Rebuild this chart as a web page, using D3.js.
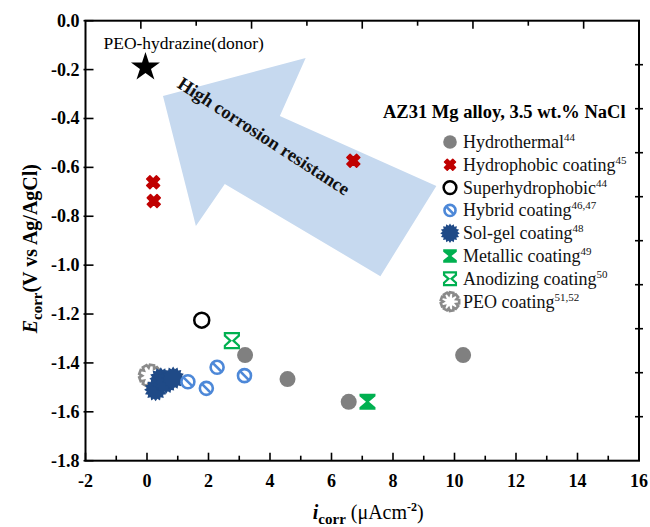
<!DOCTYPE html>
<html>
<head>
<meta charset="utf-8">
<script src="https://cdn.jsdelivr.net/npm/d3@7"></script>
<style>
  body { margin: 0; background: #fff; }
  svg text { font-family: "Liberation Serif", "DejaVu Serif", serif; }
</style>
</head>
<body>
<div id="chart"></div>
<script>
// data (i_corr in uA/cm2, E_corr in V)
const hydrothermal = [[3.19, -1.368], [4.57, -1.466], [6.56, -1.559], [10.28, -1.368]];
const hydrophobic = [[0.20, -0.661], [0.22, -0.738], [6.71, -0.573]];
const superhydrophobic = [[1.78, -1.225]];
const hybrid = [[1.33, -1.477], [1.93, -1.504], [2.28, -1.418], [3.17, -1.452]];
const solgel = [[0.28, -1.51], [0.45, -1.465], [0.62, -1.48], [0.85, -1.462]];
const metallic = [[7.17, -1.559]];
const anodizing = [[2.76, -1.309]];
const peo = [[0.10, -1.452]];
const donor = [[-0.05, -0.19]];

const xTicks = [-2, 0, 2, 4, 6, 8, 10, 12, 14, 16];
const xMinor = [-1, 1, 3, 5, 7, 9, 11, 13, 15];
const yTicks = [0, -0.2, -0.4, -0.6, -0.8, -1.0, -1.2, -1.4, -1.6, -1.8];
const frameTicks = [1, 2, 3, 4, 5, 6, 7, 8, 9];

// big "high corrosion resistance" arrow, in data units
const arrowPts = [[0.52, -0.308], [5.16, -0.153], [4.32, -0.39], [9.41, -0.676],
                  [7.59, -1.045], [2.53, -0.668], [1.59, -0.84]];

const legendItems = [
  { name: 'Hydrothermal', sup: '44', sym: 'dot' },
  { name: 'Hydrophobic coating', sup: '45', sym: 'cross' },
  { name: 'Superhydrophobic', sup: '44', sym: 'ring' },
  { name: 'Hybrid coating', sup: '46,47', sym: 'hybrid' },
  { name: 'Sol-gel coating', sup: '48', sym: 'solgel' },
  { name: 'Metallic  coating', sup: '49', sym: 'metallic' },
  { name: 'Anodizing  coating', sup: '50', sym: 'anodizing' },
  { name: 'PEO coating', sup: '51,52', sym: 'peo' }
];

const W = 650, H = 527;
const margin = { top: 20.7, right: 11, bottom: 66.3, left: 85.5 };

const svg = d3.select('#chart').append('svg')
  .attr('width', W).attr('height', H);

const x = d3.scaleLinear().domain([-2, 16]).range([margin.left, W - margin.right]);
const y = d3.scaleLinear().domain([-1.8, 0]).range([H - margin.bottom, margin.top]);
// top and right frame ticks split the box in ten
const xTop = d3.scaleLinear().domain([0, 10]).range(x.range());
const yRight = d3.scaleLinear().domain([0, 10]).range(y.range());

// arrow
svg.append('path')
  .attr('d', d3.line().x(d => x(d[0])).y(d => y(d[1]))(arrowPts) + 'Z')
  .attr('fill', '#c6d9ef');

svg.append('text')
  .attr('transform', `translate(${x(0.95)},${y(-0.27)}) rotate(33)`)
  .style('font-size', '18.5px').style('font-weight', 'bold')
  .attr('fill', '#111')
  .text('High corrosion resistance');

// symbol shapes
function gear(n, R, r) {
  const pts = [];
  for (let i = 0; i < n * 2; i++) {
    const a = Math.PI * i / n;
    const rr = i % 2 ? r : R;
    pts.push([rr * Math.cos(a), rr * Math.sin(a)]);
  }
  return d3.line().curve(d3.curveLinearClosed)(pts);
}
function cog(n, R, r) {
  // square teeth for the PEO cog
  const pts = [];
  const step = 2 * Math.PI / n;
  for (let i = 0; i < n; i++) {
    const a = i * step;
    [[-0.5, r], [-0.28, R], [0.28, R], [0.5, r]].forEach(([f, rad]) => {
      pts.push([rad * Math.cos(a + f * step), rad * Math.sin(a + f * step)]);
    });
  }
  return d3.line().curve(d3.curveLinearClosed)(pts);
}
function hourglass(w, h) {
  return `M${-w},${-h}L${w},${-h}L${w},${-h + 2.5}L1.5,0L${w},${h - 2.5}L${w},${h}` +
         `L${-w},${h}L${-w},${h - 2.5}L-1.5,0L${-w},${-h + 2.5}Z`;
}

function drawSymbol(g, sym, s) {
  s = s || 1;
  if (sym === 'dot') {
    g.append('circle').attr('r', 8 * s).attr('fill', '#808080');
  } else if (sym === 'cross') {
    g.append('path')
      .attr('d', d3.symbol(d3.symbolCross, 105 * s * s)())
      .attr('transform', 'rotate(45)')
      .attr('fill', '#c00000')
      .attr('stroke', '#c00000').attr('stroke-width', 1.5).attr('stroke-linejoin', 'round');
  } else if (sym === 'ring') {
    g.append('circle').attr('r', 7.5 * s).attr('fill', 'none')
      .attr('stroke', '#000').attr('stroke-width', 2.5);
  } else if (sym === 'hybrid') {
    g.append('circle').attr('r', 6.5 * s).attr('fill', '#fff')
      .attr('stroke', '#4d88d8').attr('stroke-width', 2.6);
    const k = 4.2 * s;
    g.append('line').attr('x1', -k).attr('y1', -k).attr('x2', k).attr('y2', k)
      .attr('stroke', '#4d88d8').attr('stroke-width', 2.6);
  } else if (sym === 'solgel') {
    g.append('path').attr('d', gear(16, 11.5 * s, 9 * s)).attr('fill', '#1f4a87');
  } else if (sym === 'metallic') {
    g.append('path').attr('d', hourglass(8 * s, 8 * s)).attr('fill', '#00b050');
  } else if (sym === 'anodizing') {
    g.append('path').attr('d', hourglass(7 * s, 7.5 * s)).attr('fill', 'none')
      .attr('stroke', '#00b050').attr('stroke-width', 2.2);
  } else if (sym === 'peo') {
    g.append('path').attr('d', cog(9, 11 * s, 8 * s)).attr('fill', 'none')
      .attr('stroke', '#8a8a8a').attr('stroke-width', 2.6);
  }
}

function plotSeries(data, sym) {
  data.forEach(d => {
    const g = svg.append('g').attr('transform', `translate(${x(d[0])},${y(d[1])})`);
    drawSymbol(g, sym);
  });
}

plotSeries(peo, 'peo');
plotSeries(solgel, 'solgel');
plotSeries(hybrid, 'hybrid');
plotSeries(hydrothermal, 'dot');
plotSeries(hydrophobic, 'cross');
plotSeries(superhydrophobic, 'ring');
plotSeries(metallic, 'metallic');
plotSeries(anodizing, 'anodizing');

// donor star
donor.forEach(d => {
  svg.append('path')
    .attr('d', d3.symbol(d3.symbolStar, 260)())
    .attr('transform', `translate(${x(d[0])},${y(d[1])})`)
    .attr('fill', '#000');
  svg.append('text')
    .attr('x', x(d[0]) - 42).attr('y', y(d[1]) - 18)
    .style('font-size', '17.5px')
    .text('PEO-hydrazine(donor)');
});

// frame
const [x0, x1] = x.range();
const [y1, y0] = y.range();
svg.append('rect')
  .attr('x', x0).attr('y', y0).attr('width', x1 - x0).attr('height', y1 - y0)
  .attr('fill', 'none').attr('stroke', '#000').attr('stroke-width', 2);

// tick labels as plain text placed by the scales
svg.append('g').selectAll('text')
  .data(xTicks).join('text')
  .attr('x', d => x(d)).attr('y', y1 + 26)
  .attr('text-anchor', 'middle')
  .style('font-size', '18px').style('font-weight', 'bold')
  .text(d => String(d));
svg.append('g').selectAll('line')
  .data(xTicks.concat(xMinor)).join('line')
  .attr('x1', d => x(d)).attr('x2', d => x(d))
  .attr('y1', y1).attr('y2', d => y1 - (d % 2 === 0 ? 8 : 5))
  .attr('stroke', '#000').attr('stroke-width', 1.6);

svg.append('g').selectAll('text')
  .data(yTicks).join('text')
  .attr('x', x0 - 6).attr('y', d => y(d) + 6)
  .attr('text-anchor', 'end')
  .style('font-size', '18px').style('font-weight', 'bold')
  .text(d => d.toFixed(1));
svg.append('g').selectAll('line')
  .data(yTicks).join('line')
  .attr('x1', x0 - 2).attr('x2', x0 + 8)
  .attr('y1', d => y(d)).attr('y2', d => y(d))
  .attr('stroke', '#000').attr('stroke-width', 1.6);

// top + right frame ticks
svg.append('g').selectAll('line')
  .data(frameTicks).join('line')
  .attr('x1', d => xTop(d)).attr('x2', d => xTop(d))
  .attr('y1', y0).attr('y2', d => y0 + (d % 2 ? 8 : 5))
  .attr('stroke', '#000').attr('stroke-width', 1.6);
svg.append('g').selectAll('line')
  .data(frameTicks).join('line')
  .attr('x1', x1 - 4).attr('x2', x1 + 4)
  .attr('y1', d => yRight(d)).attr('y2', d => yRight(d))
  .attr('stroke', '#000').attr('stroke-width', 1.6);

// axis titles
const yt = svg.append('text')
  .attr('transform', `translate(37,${(y0 + y1) / 2 + 8}) rotate(-90)`)
  .attr('text-anchor', 'middle')
  .style('font-size', '20px').style('font-weight', 'bold');
yt.append('tspan').style('font-style', 'italic').text('E');
yt.append('tspan').attr('dy', 5).style('font-size', '15px').text('corr');
yt.append('tspan').attr('dy', -5).text('(V vs Ag/AgCl)');

const xt = svg.append('text')
  .attr('x', (x0 + x1) / 2 + 6).attr('y', 519)
  .attr('text-anchor', 'middle').style('font-size', '20px');
xt.append('tspan').style('font-style', 'italic').style('font-weight', 'bold').text('i');
xt.append('tspan').attr('dy', 5).style('font-size', '15px').style('font-weight', 'bold').text('corr');
xt.append('tspan').attr('dy', -5).text(' (\u03bcAcm');
xt.append('tspan').attr('dy', -8).style('font-size', '12px').style('font-weight', 'bold').text('-2');
xt.append('tspan').attr('dy', 8).text(')');

// legend
svg.append('text')
  .attr('x', 383).attr('y', 118)
  .style('font-size', '18.5px').style('font-weight', 'bold')
  .text('AZ31 Mg alloy, 3.5 wt.% NaCl');

const leg = svg.append('g').attr('transform', 'translate(450,142)');
legendItems.forEach((it, i) => {
  const row = leg.append('g').attr('transform', `translate(0,${i * 22.8})`);
  drawSymbol(row, it.sym, 0.85);
  const t = row.append('text').attr('x', 13).attr('y', 6).style('font-size', '18px').attr('fill', '#111');
  t.append('tspan').text(it.name);
  t.append('tspan').attr('dy', -7).style('font-size', '11px').text(it.sup);
});
</script>
</body>
</html>
